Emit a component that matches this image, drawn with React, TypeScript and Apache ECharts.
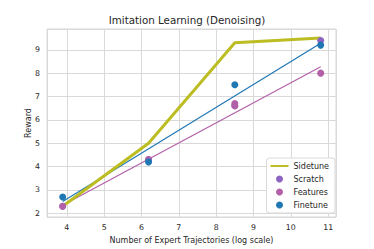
import React, { useEffect, useRef } from "react";
import * as echarts from "echarts";

// log(number of expert trajectories)
const xValues = [3.89, 6.19, 8.5, 10.8];

const sidetuneY = [2.3, 5.0, 9.3, 9.5];
const scratchPts: [number, number][] = [
  [3.89, 2.3],
  [6.19, 4.3],
  [8.5, 6.6],
  [10.8, 9.4],
];
const featuresPts: [number, number][] = [
  [3.89, 2.3],
  [6.19, 4.3],
  [8.5, 6.7],
  [8.5, 6.6],
  [10.8, 8.0],
];
const finetunePts: [number, number][] = [
  [3.89, 2.7],
  [6.19, 4.2],
  [8.5, 7.5],
  [10.8, 9.2],
];
// fitted trend lines (endpoints)
const featuresFit: [number, number][] = [
  [3.89, 2.34],
  [10.8, 8.27],
];
const finetuneFit: [number, number][] = [
  [3.89, 2.5],
  [10.8, 9.28],
];

const legendNames = ["Sidetune", "Scratch", "Features", "Finetune"];

const C_SIDE = "#bcbd22";
const C_SCRATCH = "#8c62c2";
const C_FEAT = "#b260a8";
const C_FINE = "#1f77b4";
const TXT = "#262626";
const GRIDC = "#d9d9d9";
const FONT = "DejaVu Sans";

// thin horizontal bar inside a full-height box (tiny corner marks keep the box height)
const LINE_ICON =
  "path://M0,0L0.01,0L0,0.01Z M0,2.6L18,2.6L18,4.4L0,4.4Z M0,7L0.01,7L0,6.99Z";

export default function App() {
  const ref = useRef<HTMLDivElement>(null);
  useEffect(() => {
    if (!ref.current) return;
    const chart = echarts.init(ref.current, undefined, { renderer: "svg" });
    chart.setOption({
      animation: false,
      backgroundColor: "#ffffff",
      title: {
        text: "Imitation Learning (Denoising)",
        left: "center",
        top: 15,
        padding: 0,
        textStyle: { fontFamily: FONT, fontSize: 10.3, fontWeight: "normal", color: TXT },
      },
      grid: {
        left: 47,
        right: 38,
        top: 29,
        bottom: 32,
        show: true,
        borderColor: GRIDC,
        borderWidth: 1,
        backgroundColor: "transparent",
      },
      legend: {
        data: legendNames.map((n) =>
          n === "Sidetune" ? { name: n, icon: LINE_ICON } : { name: n, icon: "circle" }
        ),
        orient: "vertical",
        right: 39,
        bottom: 36,
        itemWidth: 18,
        itemHeight: 7,
        itemGap: 5,
        padding: [4, 6, 4, 4],
        backgroundColor: "#ffffff",
        borderColor: GRIDC,
        borderWidth: 1,
        borderRadius: 3,
        textStyle: { fontFamily: FONT, fontSize: 8, color: TXT },
      },
      xAxis: {
        type: "value",
        min: 3.47,
        max: 11.21,
        splitNumber: 8,
        name: "Number of Expert Trajectories (log scale)",
        nameLocation: "middle",
        nameGap: 19,
        nameMoveOverlap: false,
        nameTextStyle: { fontFamily: FONT, fontSize: 8, color: TXT },
        axisLine: { show: false },
        axisTick: { show: false },
        axisLabel: {
          fontFamily: FONT,
          fontSize: 7.8,
          color: TXT,
          margin: 6,
          showMinLabel: false,
          showMaxLabel: false,
          formatter: (v: number) => (Number.isInteger(v) ? String(v) : ""),
        },
        splitLine: { show: true, lineStyle: { color: GRIDC, width: 1 } },
      },
      yAxis: {
        type: "value",
        min: 1.84,
        max: 9.89,
        splitNumber: 8,
        name: "Reward",
        nameLocation: "middle",
        nameGap: 15,
        nameMoveOverlap: false,
        nameTextStyle: { fontFamily: FONT, fontSize: 8, color: TXT },
        axisLine: { show: false },
        axisTick: { show: false },
        axisLabel: {
          fontFamily: FONT,
          fontSize: 7.8,
          color: TXT,
          margin: 7,
          showMinLabel: false,
          showMaxLabel: false,
          formatter: (v: number) => (Number.isInteger(v) ? String(v) : ""),
        },
        splitLine: { show: true, lineStyle: { color: GRIDC, width: 1 } },
      },
      series: [
        {
          name: "Features fit",
          type: "line",
          data: featuresFit,
          symbol: "none",
          lineStyle: { color: C_FEAT, width: 1.2 },
          itemStyle: { color: C_FEAT },
          z: 2,
        },
        {
          name: "Finetune fit",
          type: "line",
          data: finetuneFit,
          symbol: "none",
          lineStyle: { color: C_FINE, width: 1.2 },
          itemStyle: { color: C_FINE },
          z: 2,
        },
        {
          name: "Sidetune",
          type: "line",
          data: xValues.map((x, i) => [x, sidetuneY[i]]),
          symbol: "none",
          lineStyle: { color: C_SIDE, width: 3 },
          itemStyle: { color: C_SIDE },
          z: 3,
        },
        {
          name: "Scratch",
          type: "scatter",
          data: scratchPts,
          symbolSize: 7,
          itemStyle: { color: C_SCRATCH, opacity: 1 },
          z: 4,
        },
        {
          name: "Features",
          type: "scatter",
          data: featuresPts,
          symbolSize: 7,
          itemStyle: { color: C_FEAT, opacity: 1 },
          z: 4,
        },
        {
          name: "Finetune",
          type: "scatter",
          data: finetunePts,
          symbolSize: 7,
          itemStyle: { color: C_FINE, opacity: 1 },
          z: 4,
        },
      ],
    });
    return () => chart.dispose();
  }, []);
  return <div ref={ref} style={{ width: 374, height: 249, position: "absolute", left: 0, top: 0 }} />;
}
